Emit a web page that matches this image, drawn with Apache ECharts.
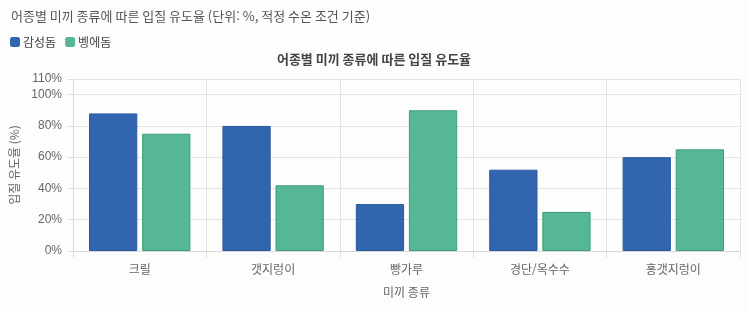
<!DOCTYPE html>
<html lang="ko">
<head>
    <meta charset="UTF-8">
    <title>어종별 미끼 종류에 따른 입질 유도율</title>
    <script src="https://cdn.jsdelivr.net/npm/echarts@6/dist/echarts.min.js"></script>
    <style>
        html, body { margin: 0; padding: 0; background: #fdfdfd; }
        #ChartId { width: 748px; height: 312px; }
    </style>
</head>
<body>
<div id="ChartId"></div>
<script>
    // 미끼 종류
    var baits = ['크릴', '갯지렁이', '빵가루', '경단/옥수수', '홍갯지렁이'];
    // 입질 유도율 (%)
    var gamseongdom = [88, 80, 30, 52, 60];
    var bengedom = [75, 42, 90, 25, 65];

    var krFont = '"Noto Sans CJK KR", sans-serif';
    var myChart = echarts.init(document.getElementById('ChartId'));
    var option = {
        backgroundColor: '#fdfdfd',
        textStyle: { fontFamily: '"Liberation Sans", "Noto Sans CJK KR", sans-serif' },
        title: [
            {
                text: '어종별 미끼 종류에 따른 입질 유도율 (단위: %, 적정 수온 조건 기준)',
                left: 6, top: 5,
                textStyle: { fontSize: 13, fontWeight: 'normal', color: '#555', fontFamily: krFont }
            },
            {
                text: '어종별 미끼 종류에 따른 입질 유도율',
                left: 'center', top: 48,
                textStyle: { fontSize: 13, fontWeight: 'bold', color: '#444', fontFamily: krFont }
            }
        ],
        legend: {
            left: 5, top: 31,
            itemWidth: 10, itemHeight: 10, itemGap: 9,
            icon: 'roundRect',
            itemStyle: { borderWidth: 0 },
            textStyle: { fontSize: 12, color: '#444', padding: [0, 0, 0, -2], fontFamily: krFont },
            data: ['감성돔', '벵에돔']
        },
        grid: { left: 73, right: 8, top: 79, bottom: 61, containLabel: false },
        xAxis: {
            type: 'category',
            data: baits,
            name: '미끼 종류',
            nameLocation: 'middle',
            nameGap: 35,
            nameTextStyle: { fontSize: 12, color: '#666', fontFamily: krFont },
            axisLine: { show: true, lineStyle: { color: '#d8d8d8' } },
            axisTick: { show: true, length: 7, lineStyle: { color: '#e0e0e0' } },
            splitLine: { show: true, lineStyle: { color: '#e4e4e4' } },
            axisLabel: { fontSize: 12, color: '#666', margin: 12, fontFamily: krFont }
        },
        yAxis: {
            type: 'value',
            min: 0, max: 110, interval: 20,
            name: '입질 유도율 (%)',
            nameLocation: 'middle',
            nameGap: 51,
            nameRotate: 90,
            nameTextStyle: { fontSize: 12, color: '#666', fontFamily: krFont },
            axisLine: { show: true, lineStyle: { color: '#d8d8d8' } },
            axisTick: { show: true, length: 6, lineStyle: { color: '#e0e0e0' } },
            splitLine: { show: true, lineStyle: { color: '#e4e4e4' } },
            axisLabel: {
                fontSize: 12, color: '#666', margin: 11,
                showMaxLabel: true,
                formatter: '{value}%'
            }
        },
        series: [
            {
                name: '감성돔', type: 'bar', data: gamseongdom,
                barCategoryGap: '24%', barGap: '10%',
                itemStyle: { color: '#3165ad', borderColor: '#2b5aa0', borderWidth: 1 }
            },
            {
                name: '벵에돔', type: 'bar', data: bengedom,
                itemStyle: { color: '#55b795', borderColor: '#3c9e7b', borderWidth: 1 }
            }
        ]
    };
    myChart.setOption(option, true);
</script>
</body>
</html>
